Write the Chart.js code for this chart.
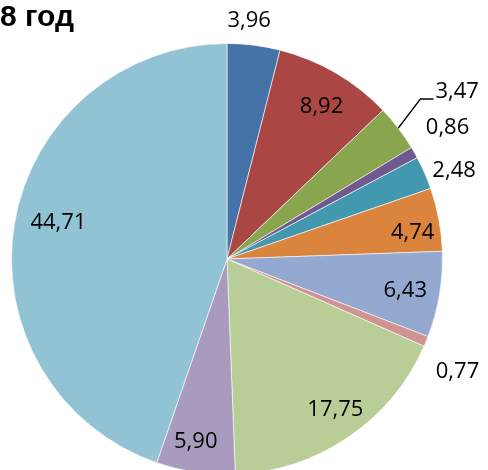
<!DOCTYPE html>
<html>
<head>
<meta charset="utf-8">
<script src="https://cdn.jsdelivr.net/npm/chart.js@4.4.1/dist/chart.umd.min.js"></script>
<style>
    html, body { margin: 0; padding: 0; background: #fff; overflow: hidden; }
    #wrap { position: relative; width: 488px; height: 470px; overflow: hidden; }
    #title {
        position: absolute; left: 0; top: 1px;
        font: bold 30px "Liberation Sans", Arial, sans-serif;
        line-height: 30px; color: #000; white-space: nowrap;
    }
    #chart-box { position: absolute; left: 0; top: 0; width: 488px; height: 490px; }
</style>
</head>
<body>
<div id="wrap">
    <div id="chart-box"><canvas id="pie"></canvas></div>
    <div id="title">8 год</div>
</div>
<script>
// shares, %
const values = [3.96, 8.92, 3.47, 0.86, 2.48, 4.74, 6.43, 0.77, 17.75, 5.90, 44.71];
const labels = ['1', '2', '3', '4', '5', '6', '7', '8', '9', '10', '11'];

const colors = ['#4572A7', '#AA4643', '#89A54E', '#71588F', '#4198AF', '#DB843D',
                '#93A9CF', '#D19392', '#B9CD96', '#A99BBD', '#92C3D5'];

// label placement: [radius factor, angle shift in degrees]
const labelPlace = [
    [1.11, -1.8], [0.83, 1.6], [1.32, 1.4], [1.19, -1.1], [1.13, 2.4], [0.87, 2.6],
    [0.84, 0.5], [1.19, 3.5], [0.86, -1.6], [0.86, 1.3], [0.80, 2.6]
];
const leaderIndex = 2;

function fmt(v) {
    return v.toFixed(2).replace('.', ',');
}

const sliceLabels = {
    id: 'sliceLabels',
    afterDatasetsDraw(chart) {
        const ctx = chart.ctx;
        const meta = chart.getDatasetMeta(0);
        ctx.save();
        ctx.font = '22px "Open Sans", "Liberation Sans", sans-serif';
        ctx.fillStyle = '#000';
        ctx.textAlign = 'center';
        ctx.textBaseline = 'middle';
        meta.data.forEach((arc, i) => {
            const p = arc.getProps(['x', 'y', 'startAngle', 'endAngle', 'outerRadius'], true);
            const mid = (p.startAngle + p.endAngle) / 2;
            const a = mid + labelPlace[i][1] * Math.PI / 180;
            const r = p.outerRadius * labelPlace[i][0];
            const lx = p.x + Math.cos(a) * r;
            const ly = p.y + Math.sin(a) * r;
            const text = fmt(values[i]);
            ctx.fillText(text, lx, ly);
            if (i === leaderIndex) {
                const w = ctx.measureText(text).width;
                const sx = p.x + Math.cos(mid) * p.outerRadius;
                const sy = p.y + Math.sin(mid) * p.outerRadius;
                const ex = lx - w / 2 - 2;
                const ey = ly + 7;
                ctx.beginPath();
                ctx.strokeStyle = '#000';
                ctx.lineWidth = 1.5;
                ctx.moveTo(sx, sy);
                ctx.lineTo(ex - 13, ey);
                ctx.lineTo(ex, ey);
                ctx.stroke();
            }
        });
        ctx.restore();
    }
};

new Chart(document.getElementById('pie'), {
    type: 'pie',
    data: {
        labels: labels,
        datasets: [{
            data: values,
            backgroundColor: colors,
            borderColor: 'rgba(255,255,255,0.6)',
            borderWidth: 1
        }]
    },
    options: {
        responsive: true,
        maintainAspectRatio: false,
        animation: false,
        layout: { padding: { left: 11, right: 45, top: 43, bottom: 15 } },
        plugins: {
            legend: { display: false },
            tooltip: { enabled: false }
        }
    },
    plugins: [sliceLabels]
});
</script>
</body>
</html>
